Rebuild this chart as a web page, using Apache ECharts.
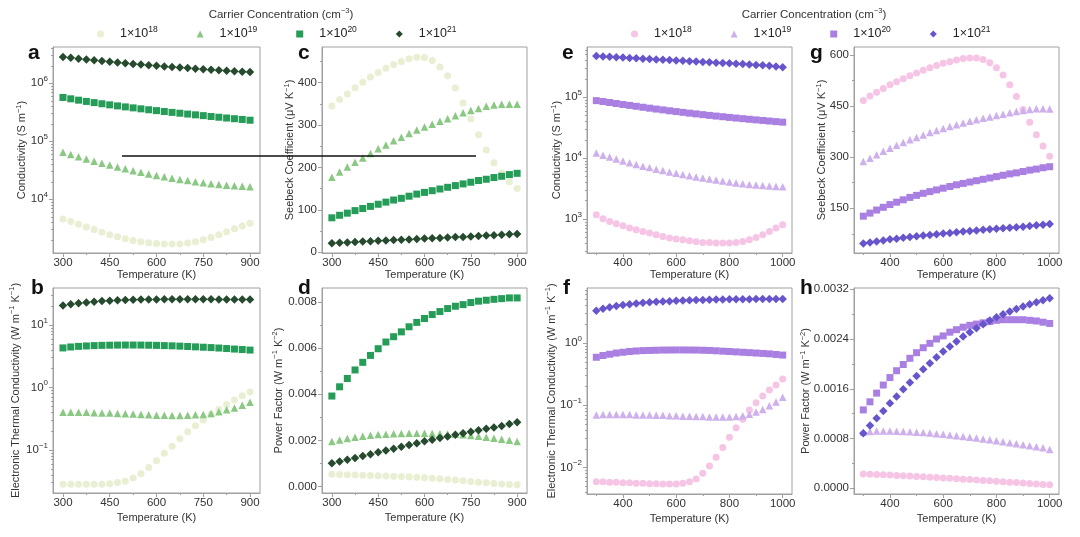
<!DOCTYPE html>
<html><head><meta charset="utf-8">
<script src="https://cdn.jsdelivr.net/npm/echarts@6/dist/echarts.min.js"></script>
<style>html,body{margin:0;padding:0;background:#fff}#chart{width:1080px;height:537px}</style>
</head><body><div id="chart"></div>
<script>
// ---------------- data ----------------
const T_LEFT = [300,325,350,375,400,425,450,475,500,525,550,575,600,625,650,675,700,725,750,775,800,825,850,875,900];
const T_RIGHT = [300,325,350,375,400,425,450,475,500,525,550,575,600,625,650,675,700,725,750,775,800,825,850,875,900,925,950,975,1000];
const CONC_EXP = ['18','19','20','21'];

// a: conductivity (green)
const SIGMA_G18 = [4570,4150,3700,3330,3000,2700,2450,2250,2080,1950,1850,1780,1730,1700,1690,1700,1760,1860,2000,2200,2450,2750,3100,3450,3850];
const SIGMA_G19 = [65000,59000,54000,49500,45500,42000,39000,36000,33500,31200,29200,27400,25800,24400,23100,22000,21000,20100,19300,18600,18000,17500,17100,16800,16500];
const SIGMA_G20 = [570000,540000,512000,487000,465000,444000,425000,408000,392000,377000,363000,350000,338000,326000,315000,305000,295000,286000,277000,268000,260000,252000,245000,238000,231000];
const SIGMA_G21 = [2850000,2750000,2650000,2570000,2490000,2420000,2350000,2280000,2220000,2160000,2100000,2050000,2000000,1950000,1910000,1870000,1830000,1790000,1750000,1720000,1680000,1650000,1620000,1590000,1560000];
// c: Seebeck (green)
const S_G18 = [345,360,373,388,401,413,424,434,443,450,456,460,459,452,437,416,387,352,314,277,241,211,187,166,150];
const S_G19 = [177,189,201,212,222,233,244,253,263,271,280,288,295,302,309,315,322,329,334,339,344,347,349,349,349];
const S_G20 = [81,87,92,98,103,108,113,118,123,127,132,137,141,145,149,153,157,161,165,169,172,176,179,183,186];
const S_G21 = [21,22,23,24,25,26,27,27.5,28.5,29.5,30,31,32,33,33.5,34.5,35.5,36,37,38,39,40,41,42,43];
// b: electronic thermal conductivity (green)
const K_G18 = [0.0282,0.0282,0.0282,0.0282,0.0282,0.0282,0.0288,0.0302,0.0316,0.0355,0.0417,0.0525,0.0676,0.0891,0.115,0.151,0.195,0.245,0.302,0.372,0.447,0.537,0.631,0.741,0.851];
const K_G19 = [0.40,0.40,0.40,0.40,0.395,0.39,0.39,0.385,0.38,0.375,0.37,0.365,0.36,0.36,0.355,0.355,0.36,0.365,0.37,0.385,0.41,0.44,0.47,0.52,0.58];
const K_G20 = [4.3,4.45,4.55,4.62,4.68,4.72,4.75,4.77,4.78,4.78,4.77,4.75,4.72,4.68,4.64,4.59,4.53,4.47,4.41,4.35,4.28,4.2,4.12,4.05,3.97];
const K_G21 = [20.5,21.5,22.3,23,23.6,24.1,24.5,24.8,25.1,25.3,25.5,25.6,25.7,25.8,25.8,25.8,25.8,25.8,25.8,25.8,25.7,25.7,25.6,25.6,25.5];
// d: power factor (green)
const PF_G18 = [0.00053,0.00052,0.00051,0.0005,0.00049,0.00048,0.00047,0.00046,0.00045,0.00044,0.00042,0.0004,0.00038,0.00036,0.00034,0.00031,0.00028,0.00025,0.00022,0.00019,0.00016,0.00013,0.00011,0.00009,0.00008];
const PF_G19 = [0.00195,0.00202,0.00208,0.00213,0.00218,0.00222,0.00225,0.00227,0.00229,0.0023,0.00231,0.00231,0.00231,0.0023,0.00229,0.00228,0.00226,0.00224,0.00221,0.00218,0.00214,0.00209,0.00205,0.002,0.00195];
const PF_G20 = [0.00392,0.00432,0.00468,0.00505,0.00538,0.00568,0.00597,0.00626,0.00649,0.0067,0.00692,0.00711,0.00728,0.00745,0.00758,0.00771,0.00781,0.00788,0.00797,0.00803,0.00807,0.00811,0.00814,0.00817,0.00817];
const PF_G21 = [0.00101,0.00108,0.00116,0.00124,0.00132,0.0014,0.00148,0.00156,0.00164,0.00172,0.0018,0.00188,0.00196,0.00203,0.0021,0.00217,0.00224,0.00231,0.00237,0.00244,0.0025,0.00256,0.00262,0.00271,0.00279];
// e: conductivity (purple)
const SIGMA_P18 = [1175,1010,914,837,776,712,668,626,589,553,519,489,470,458,441,425,413,413,404,404,404,413,430,458,500,553,626,712,810];
const SIGMA_P19 = [12100,11200,10400,9700,9000,8400,7900,7400,7000,6600,6250,5950,5650,5400,5150,4920,4720,4530,4360,4200,4050,3920,3800,3700,3620,3550,3490,3440,3400];
const SIGMA_P20 = [88000,85000,82000,79000,76000,73500,71000,68500,66200,64000,62000,60000,58200,56500,54800,53300,51800,50400,49100,47900,46700,45600,44500,43500,42500,41600,40700,39800,39000];
const SIGMA_P21 = [475000,468000,461000,454000,448000,442000,436000,430000,424000,418000,412000,407000,401000,396000,391000,385000,380000,375000,370000,365000,360000,355000,350000,345000,340000,335000,328000,320000,311000];
// g: Seebeck (purple)
const S_P18 = [466,479,490,501,512,521,530,539,547,555,562,569,575,580,585,589,591,591,586,577,562,541,512,478,440,402,366,333,303];
const S_P19 = [287,297,307,317,326,335,343,351,358,365,372,378,384,390,395,400,405,410,414,418,422,426,430,434,437,440,442,442,441];
const S_P20 = [127,136,145,153,161,168,175,182,188,194,199,204,209,214,219,223,227,231,235,239,243,247,251,254,258,262,265,269,272];
const S_P21 = [47,50,53,56,59,61,63.5,66,68,70,72,74,76,78,80,82,83.5,85,87,88.5,90,91.5,93,94.5,96,98,100,102,104];
// f: electronic thermal conductivity (purple)
const K_P18 = [0.00594,0.00594,0.00581,0.00581,0.00573,0.00573,0.0056,0.0056,0.00552,0.00552,0.00545,0.00545,0.00545,0.0056,0.00594,0.00656,0.0081,0.0106,0.0146,0.0211,0.0306,0.0438,0.0596,0.084,0.11,0.141,0.176,0.212,0.264];
const K_P19 = [0.070,0.071,0.071,0.071,0.071,0.071,0.070,0.070,0.070,0.069,0.069,0.068,0.068,0.067,0.067,0.066,0.066,0.065,0.065,0.065,0.065,0.066,0.068,0.072,0.078,0.086,0.098,0.113,0.135];
const K_P20 = [0.59,0.63,0.66,0.69,0.71,0.73,0.745,0.755,0.76,0.765,0.77,0.772,0.773,0.773,0.772,0.77,0.765,0.76,0.75,0.74,0.73,0.72,0.71,0.70,0.69,0.68,0.67,0.655,0.64];
const K_P21 = [3.3,3.55,3.75,3.92,4.07,4.2,4.32,4.42,4.5,4.58,4.65,4.7,4.75,4.8,4.84,4.88,4.92,4.95,4.98,5.0,5.02,5.04,5.05,5.06,5.07,5.08,5.08,5.08,5.08];
// h: power factor (purple)
const PF_P18 = [0.00023,0.000226,0.000222,0.000217,0.000212,0.000207,0.000202,0.000196,0.00019,0.000184,0.000178,0.000172,0.000166,0.00016,0.000153,0.000147,0.00014,0.000134,0.000127,0.00012,0.000113,0.000106,0.000099,0.000092,0.000085,0.000078,0.000071,0.000063,0.000055];
const PF_P19 = [0.0009,0.000915,0.00092,0.00092,0.00092,0.000918,0.000915,0.00091,0.000903,0.000895,0.000887,0.000878,0.000868,0.000857,0.000846,0.000834,0.000821,0.000808,0.000794,0.00078,0.000765,0.00075,0.000734,0.000718,0.000701,0.000684,0.000667,0.00065,0.000625];
const PF_P20 = [0.00126,0.00139,0.00153,0.00166,0.00178,0.00189,0.00199,0.00209,0.00218,0.00226,0.00233,0.0024,0.00245,0.00251,0.00255,0.00259,0.00262,0.00264,0.00266,0.00268,0.0027,0.00271,0.00271,0.00271,0.00271,0.0027,0.00269,0.00267,0.00265];
const PF_P21 = [0.000884,0.001008,0.001126,0.001244,0.001367,0.001474,0.001592,0.001699,0.001806,0.001914,0.00201,0.002107,0.002198,0.002278,0.002358,0.002439,0.002509,0.002573,0.002637,0.002696,0.00275,0.002798,0.002841,0.002884,0.002921,0.002959,0.002991,0.003023,0.003055];

// tick values
const X_TICKS_LEFT = [300,450,600,750,900];
const X_MINOR_LEFT = [375,525,675,825];
const X_TICKS_RIGHT = [400,600,800,1000];
const X_MINOR_RIGHT = [300,500,700,900];
const Y_TICKS_A = [1e4,1e5,1e6];
const Y_TICKS_B = [0.1,1,10];
const Y_TICKS_C = [0,100,200,300,400];
const Y_MINOR_C = [50,150,250,350,450];
const Y_TICKS_D = [0,0.002,0.004,0.006,0.008];
const Y_MINOR_D = [0.001,0.003,0.005,0.007];
const Y_TICKS_E = [1e3,1e4,1e5];
const Y_TICKS_F = [0.01,0.1,1];
const Y_TICKS_G = [150,300,450,600];
const Y_MINOR_G = [75,225,375,525];
const Y_TICKS_H = [0,0.0008,0.0016,0.0024,0.0032];
const Y_MINOR_H = [0.0004,0.0012,0.002,0.0028];

// ---------------- styling ----------------
const FONT = "'Liberation Sans', Arial, Helvetica, sans-serif";
const GREEN = ['#e8efd2','#8ac883','#259c57','#254a2d'];
const PURPLE = ['#f6c5e6','#cdb0ec','#a97fe2','#6755cc'];
const SYMBOLS = ['circle','triangle','rect','diamond'];
const SYMBOL_SIZES = [7,7.5,7,8.5];
const AXIS_COLOR = '#a0a0a0';
const TEXT_COLOR = '#333';
const TICK_FS = 11.5;

function logMinors(lo, hi){ // minor tick positions 2..9 x 10^k inside range
  const out=[]; for(let e=Math.floor(Math.log10(lo)); e<=Math.ceil(Math.log10(hi)); e++){ for(let m=2;m<=9;m++){const v=m*Math.pow(10,e); if(v>lo&&v<hi) out.push(v);} } return out;
}
const logFmt = v => { const e = Math.round(Math.log10(v)); return '{n|10}{s|' + (e<0 ? '\u2212'+(-e) : e) + '}'; };
const SUP = {fontSize:7.5, lineHeight:8, verticalAlign:'top', color:TEXT_COLOR, fontFamily:FONT};

const panels = [
  {letter:'a', box:[53,47,207,206], T:T_LEFT, xr:[268,932], xt:X_TICKS_LEFT, xm:X_MINOR_LEFT, log:true, yr:[3.074,6.626], yt:Y_TICKS_A, fmt:logFmt,
   name:'Conductivity (S m{s|\u22121})', ngap:23.5, xgap:16, pal:GREEN, key:'G', data:[SIGMA_G18,SIGMA_G19,SIGMA_G20,SIGMA_G21], lp:[28,43]},
  {letter:'c', box:[322,47,205,206], T:T_LEFT, xr:[268,932], xt:X_TICKS_LEFT, xm:X_MINOR_LEFT, log:false, yr:[-2,484], yt:Y_TICKS_C, ym:Y_MINOR_C, fmt:v=>String(v),
   name:'Seebeck Coefficient (\u03bcV K{s|\u22121})', ngap:24.5, xgap:16, pal:GREEN, key:'G', data:[S_G18,S_G19,S_G20,S_G21], lp:[298,43]},
  {letter:'b', box:[53,288,207,205], T:T_LEFT, xr:[268,932], xt:X_TICKS_LEFT, xm:X_MINOR_LEFT, log:true, yr:[-1.688,1.592], yt:Y_TICKS_B, fmt:logFmt,
   name:'Electronic Thermal Conductivity (W m{s|\u22121} K{s|\u22121})', ngap:30, xgap:19, pal:GREEN, key:'G', data:[K_G18,K_G19,K_G20,K_G21], lp:[31,278]},
  {letter:'d', box:[322,288,205,205], T:T_LEFT, xr:[268,932], xt:X_TICKS_LEFT, xm:X_MINOR_LEFT, log:false, yr:[-0.00028,0.0086], yt:Y_TICKS_D, ym:Y_MINOR_D, fmt:v=>v.toFixed(3),
   name:'Power Factor (W m{s|\u22121} K{s|\u22122})', ngap:36, xgap:19, pal:GREEN, key:'G', data:[PF_G18,PF_G19,PF_G20,PF_G21], lp:[298,278]},
  {letter:'e', box:[587,47,205,206], T:T_RIGHT, xr:[265,1035], xt:X_TICKS_RIGHT, xm:X_MINOR_RIGHT, log:true, yr:[2.443,5.825], yt:Y_TICKS_E, fmt:logFmt,
   name:'Conductivity (S m{s|\u22121})', ngap:22.5, xgap:16, pal:PURPLE, key:'P', data:[SIGMA_P18,SIGMA_P19,SIGMA_P20,SIGMA_P21], lp:[562,43]},
  {letter:'g', box:[854,47,205,206], T:T_RIGHT, xr:[265,1035], xt:X_TICKS_RIGHT, xm:X_MINOR_RIGHT, log:false, yr:[19,623], yt:Y_TICKS_G, ym:Y_MINOR_G, fmt:v=>String(v),
   name:'Seebeck Coefficient (\u03bcV K{s|\u22121})', ngap:24.5, xgap:16, pal:PURPLE, key:'P', data:[S_P18,S_P19,S_P20,S_P21], lp:[810,43]},
  {letter:'f', box:[587,288,205,206], T:T_RIGHT, xr:[265,1035], xt:X_TICKS_RIGHT, xm:X_MINOR_RIGHT, log:true, yr:[-2.424,0.883], yt:Y_TICKS_F, fmt:logFmt,
   name:'Electronic Thermal Conductivity (W m{s|\u22121} K{s|\u22121})', ngap:28, xgap:19, pal:PURPLE, key:'P', data:[K_P18,K_P19,K_P20,K_P21], lp:[563,278]},
  {letter:'h', box:[854,288,205,206], T:T_RIGHT, xr:[265,1035], xt:X_TICKS_RIGHT, xm:X_MINOR_RIGHT, log:false, yr:[-0.0000917,0.00322], yt:Y_TICKS_H, ym:Y_MINOR_H, fmt:v=>v.toFixed(4),
   name:'Power Factor (W m{s|\u22121} K{s|\u22122})', ngap:40.5, xgap:19, pal:PURPLE, key:'P', data:[PF_P18,PF_P19,PF_P20,PF_P21], lp:[800,278]}
];

const grids=[], xAxes=[], yAxes=[], series=[], titles=[];
const minorX=[], minorY=[];
panels.forEach((p,i)=>{
  grids.push({left:p.box[0], top:p.box[1], width:p.box[2], height:p.box[3], show:true, borderColor:AXIS_COLOR, borderWidth:1, backgroundColor:'transparent', containLabel:false});
  const ymin = p.log ? Math.pow(10,p.yr[0]) : p.yr[0];
  const ymax = p.log ? Math.pow(10,p.yr[1]) : p.yr[1];
  xAxes.push({type:'value', gridIndex:i, position:'bottom', min:p.xr[0], max:p.xr[1],
    axisLine:{show:true, onZero:false, lineStyle:{color:AXIS_COLOR, width:1}},
    axisTick:{show:true, customValues:p.xt, length:4, lineStyle:{color:AXIS_COLOR}},
    axisLabel:{customValues:p.xt, fontSize:TICK_FS, color:TEXT_COLOR, margin:4, fontFamily:FONT, formatter:v=>String(v)},
    splitLine:{show:false}, name:'Temperature (K)', nameLocation:'middle', nameGap:p.xgap, nameMoveOverlap:false,
    nameTextStyle:{fontSize:11, color:TEXT_COLOR, fontFamily:FONT}});
  yAxes.push({type:p.log?'log':'value', logBase:10, gridIndex:i, position:'left', min:ymin, max:ymax,
    axisLine:{show:true, onZero:false, lineStyle:{color:AXIS_COLOR, width:1}},
    axisTick:{show:true, customValues:p.yt, length:4, lineStyle:{color:AXIS_COLOR}},
    axisLabel:{customValues:p.yt, fontSize:TICK_FS, color:TEXT_COLOR, margin:5, fontFamily:FONT, formatter:p.fmt,
      rich:{n:{fontSize:TICK_FS, lineHeight:17, color:TEXT_COLOR, fontFamily:FONT}, s:{fontSize:8, lineHeight:9, verticalAlign:'top', color:TEXT_COLOR, fontFamily:FONT}}},
    splitLine:{show:false}, name:p.name, nameLocation:'middle', nameGap:p.ngap, nameRotate:90, nameMoveOverlap:false,
    nameTextStyle:{fontSize:11, lineHeight:15, color:TEXT_COLOR, fontFamily:FONT, rich:{s:SUP}}});
  minorX.push({type:'value', gridIndex:i, position:'bottom', min:p.xr[0], max:p.xr[1],
    axisLine:{show:false, onZero:false}, axisLabel:{show:false}, splitLine:{show:false},
    axisTick:{show:true, customValues:p.xm, length:2, lineStyle:{color:AXIS_COLOR}}});
  minorY.push({type:p.log?'log':'value', logBase:10, gridIndex:i, position:'left', min:ymin, max:ymax,
    axisLine:{show:false, onZero:false}, axisLabel:{show:false}, splitLine:{show:false},
    axisTick:{show:true, customValues:p.log?logMinors(ymin,ymax):p.ym, length:2, lineStyle:{color:AXIS_COLOR}}});
  p.data.forEach((arr,k)=>{
    series.push({type:'scatter', name:p.key+CONC_EXP[k], xAxisIndex:i, yAxisIndex:i,
      symbol:SYMBOLS[k], symbolSize:SYMBOL_SIZES[k], itemStyle:{color:p.pal[k], opacity:1},
      data:p.T.map((t,j)=>[t,arr[j]]), z:2+k});
  });
  titles.push({text:p.letter, left:p.lp[0], top:p.lp[1], padding:0, textStyle:{fontSize:21, fontWeight:'bold', color:'#111', fontFamily:FONT}});
});

titles.push({text:'Carrier Concentration (cm{s|\u22123})', left:281, top:7, textAlign:'center', padding:0,
  textStyle:{fontSize:11.5, lineHeight:15, color:TEXT_COLOR, fontWeight:'normal', fontFamily:FONT, rich:{s:SUP}}});
titles.push({text:'Carrier Concentration (cm{s|\u22123})', left:814, top:7, textAlign:'center', padding:0,
  textStyle:{fontSize:11.5, lineHeight:15, color:TEXT_COLOR, fontWeight:'normal', fontFamily:FONT, rich:{s:SUP}}});

const legendText = {fontSize:12.5, color:'#222', fontFamily:FONT,
  rich:{g:{width:11, fontSize:12.5, lineHeight:18}, n:{fontSize:12.5, lineHeight:18, color:'#222', fontFamily:FONT}, s:{fontSize:8.5, lineHeight:10, verticalAlign:'top', color:'#222', fontFamily:FONT}}};
const legendFmt = n => '{g| }{n|1\u00d710}{s|' + n.slice(1) + '}';
const legends = [
  {left:97, top:25, padding:0, itemGap:39, itemWidth:7, itemHeight:7, selectedMode:false,
   data:['G18','G19','G20','G21'], formatter:legendFmt, textStyle:legendText},
  {left:631, top:25, padding:0, itemGap:39, itemWidth:7, itemHeight:7, selectedMode:false,
   data:['P18','P19','P20','P21'], formatter:legendFmt, textStyle:legendText}
];

const chart = echarts.init(document.getElementById('chart'), null, {renderer:'canvas'});
chart.setOption({
  animation:false, backgroundColor:'#ffffff', textStyle:{fontFamily:FONT},
  title:titles, legend:legends, grid:grids,
  xAxis:xAxes.concat(minorX), yAxis:yAxes.concat(minorY), series:series,
  graphic:[{type:'line', z:100, shape:{x1:122,y1:156,x2:476,y2:156}, style:{stroke:'#111', lineWidth:1.3}}]
});
</script></body></html>
